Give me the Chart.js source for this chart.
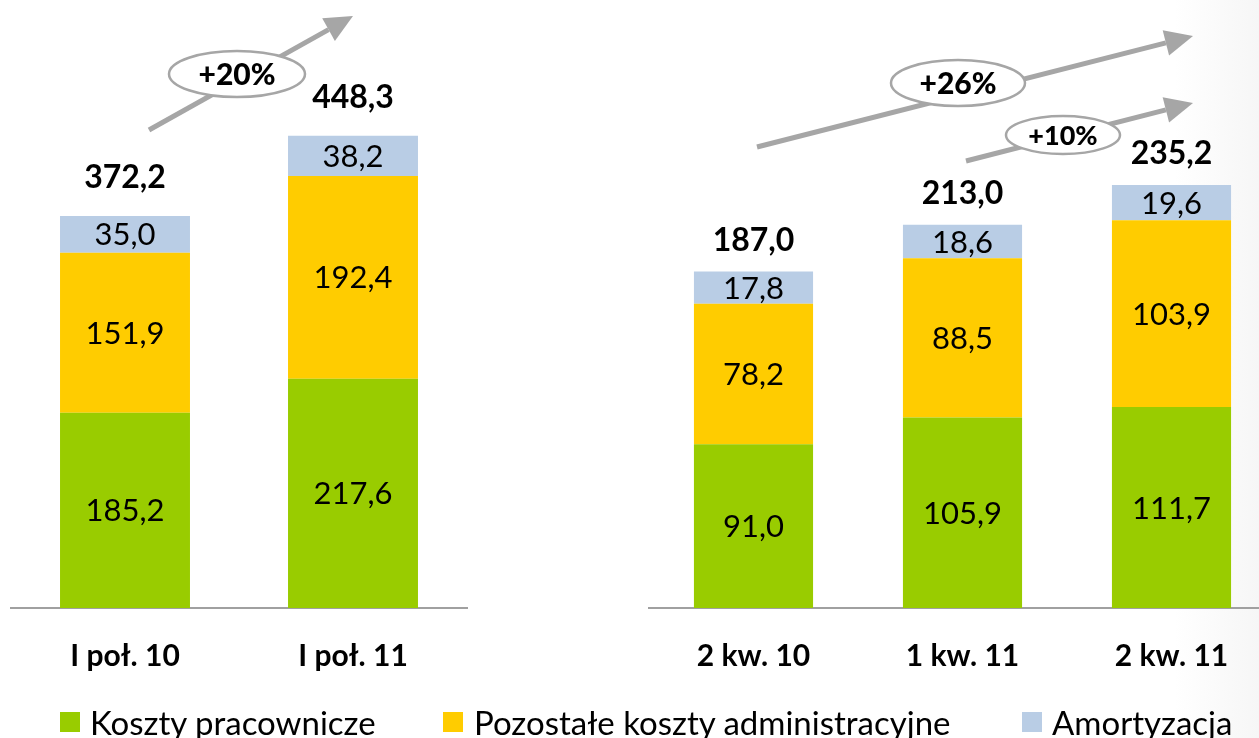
<!DOCTYPE html>
<html>
<head>
<meta charset="utf-8">
<script src="https://cdn.jsdelivr.net/npm/chart.js@4.4.1/dist/chart.umd.min.js"></script>
<style>
  html, body { margin: 0; padding: 0; background: #fff; }
  body { width: 1259px; height: 738px; position: relative; overflow: hidden; font-family: Lato, 'Open Sans', sans-serif;
         background: linear-gradient(to right, #fff 0, #fff 1175px, #f6f6f6 1259px); }
  #leftWrap { position: absolute; left: 0; top: 0; width: 480px; height: 700px; }
  #rightWrap { position: absolute; left: 640px; top: 0; width: 660px; height: 700px; }
  #overlay { position: absolute; left: 0; top: 0; pointer-events: none; }
  .lg { position: absolute; top: 703px; font-size: 33px; color: #000; white-space: nowrap; line-height: 38px; }
  .lg i { position: absolute; top: 9px; width: 20px; height: 20px; }
</style>
</head>
<body>
<div id="leftWrap"><canvas id="leftChart"></canvas></div>
<div id="rightWrap"><canvas id="rightChart"></canvas></div>
<canvas id="overlay" width="1259" height="738"></canvas>

<div class="lg" style="left:60px"><i style="left:0;background:#99CC00"></i><span style="margin-left:30px">Koszty pracownicze</span></div>
<div class="lg" style="left:443px"><i style="left:0;background:#FFCC00"></i><span style="margin-left:31px">Pozostałe koszty administracyjne</span></div>
<div class="lg" style="left:1022px"><i style="left:0;background:#B9CDE5"></i><span style="margin-left:30px">Amortyzacja</span></div>

<script>
// ---- data ----
const seriesNames = ['Koszty pracownicze', 'Pozostałe koszty administracyjne', 'Amortyzacja'];
const seriesColors = ['#99CC00', '#FFCC00', '#B9CDE5'];

const leftLabels = ['I poł. 10', 'I poł. 11'];
const leftPersonnel = [185.2, 217.6];
const leftAdmin = [151.9, 192.4];
const leftDepreciation = [35.0, 38.2];
const leftTotals = [372.2, 448.3];

const rightLabels = ['2 kw. 10', '1 kw. 11', '2 kw. 11'];
const rightPersonnel = [91.0, 105.9, 111.7];
const rightAdmin = [78.2, 88.5, 103.9];
const rightDepreciation = [17.8, 18.6, 19.6];
const rightTotals = [187.0, 213.0, 235.2];

const FONT = 'Lato, "Open Sans", sans-serif';

function fmt(v) {
  return v.toFixed(1).replace('.', ',');
}

// labels inside segments + totals above bars
const barLabels = {
  id: 'barLabels',
  afterDatasetsDraw(chart, args, opts) {
    const ctx = chart.ctx;
    ctx.save();
    ctx.textAlign = 'center';
    ctx.textBaseline = 'middle';
    ctx.fillStyle = '#000';
    ctx.font = '31px ' + FONT;
    chart.data.datasets.forEach((ds, i) => {
      const meta = chart.getDatasetMeta(i);
      meta.data.forEach((bar, j) => {
        const p = bar.getProps(['x', 'y', 'base'], true);
        ctx.fillText(fmt(ds.data[j]), p.x, (p.y + p.base) / 2 + 1);
      });
    });
    const last = chart.getDatasetMeta(chart.data.datasets.length - 1);
    ctx.font = 'bold 32px ' + FONT;
    last.data.forEach((bar, j) => {
      const p = bar.getProps(['x', 'y'], true);
      ctx.fillText(fmt(opts.totals[j]), p.x, p.y - opts.gap);
    });
    ctx.restore();
  }
};

function makeChart(id, labels, personnel, admin, depr, totals, yMax, padL, padR, gap) {
  const data = [personnel, admin, depr];
  return new Chart(document.getElementById(id), {
    type: 'bar',
    data: {
      labels: labels,
      datasets: data.map((d, i) => ({
        label: seriesNames[i],
        data: d,
        backgroundColor: seriesColors[i],
        borderWidth: 0,
        categoryPercentage: 1,
        barPercentage: 0.57
      }))
    },
    options: {
      responsive: true,
      maintainAspectRatio: false,
      animation: false,
      layout: { padding: { left: padL, right: padR, top: 0, bottom: 10 } },
      plugins: {
        legend: { display: false },
        tooltip: { enabled: false },
        barLabels: { totals: totals, gap: gap }
      },
      scales: {
        x: {
          stacked: true,
          grid: { display: false, drawTicks: false },
          border: { color: '#A0A0A0', width: 2 },
          ticks: { color: '#000', font: { family: FONT, size: 30, weight: 'bold' }, padding: 30 },
          afterFit(scale) { scale.height = 82; }
        },
        y: {
          stacked: true,
          display: false,
          min: 0,
          max: yMax
        }
      }
    },
    plugins: [barLabels]
  });
}

makeChart('leftChart', leftLabels, leftPersonnel, leftAdmin, leftDepreciation, leftTotals, 577, 11, 13, 38);
makeChart('rightChart', rightLabels, rightPersonnel, rightAdmin, rightDepreciation, rightTotals, 338, 9, 24, 31);

// ---- growth arrows ----
const ov = document.getElementById('overlay').getContext('2d');

function arrow(x1, y1, x2, y2) {
  const ang = Math.atan2(y2 - y1, x2 - x1);
  const len = 28, hw = 13;
  const bx = x2 - len * Math.cos(ang), by = y2 - len * Math.sin(ang);
  ov.strokeStyle = '#A6A6A6';
  ov.fillStyle = '#A6A6A6';
  ov.lineWidth = 5;
  ov.beginPath();
  ov.moveTo(x1, y1);
  ov.lineTo(bx, by);
  ov.stroke();
  ov.beginPath();
  ov.moveTo(x2, y2);
  ov.lineTo(bx + hw * Math.sin(ang), by - hw * Math.cos(ang));
  ov.lineTo(bx - hw * Math.sin(ang), by + hw * Math.cos(ang));
  ov.closePath();
  ov.fill();
}

function badge(cx, cy, rx, ry, text, size) {
  ov.beginPath();
  ov.ellipse(cx, cy, rx, ry, 0, 0, Math.PI * 2);
  ov.fillStyle = '#fff';
  ov.fill();
  ov.strokeStyle = '#A6A6A6';
  ov.lineWidth = 2.5;
  ov.stroke();
  ov.fillStyle = '#000';
  ov.font = '900 ' + size + 'px ' + FONT;
  ov.textAlign = 'center';
  ov.textBaseline = 'middle';
  ov.fillText(text, cx, cy + 1);
}

arrow(149, 130, 353, 16);
badge(237, 74, 68, 23, '+20%', 30);

arrow(757, 147, 1193, 36);
badge(958, 83, 67, 23, '+26%', 30);

arrow(966, 161, 1193, 103);
badge(1063, 135, 57, 19, '+10%', 27);
</script>
</body>
</html>
